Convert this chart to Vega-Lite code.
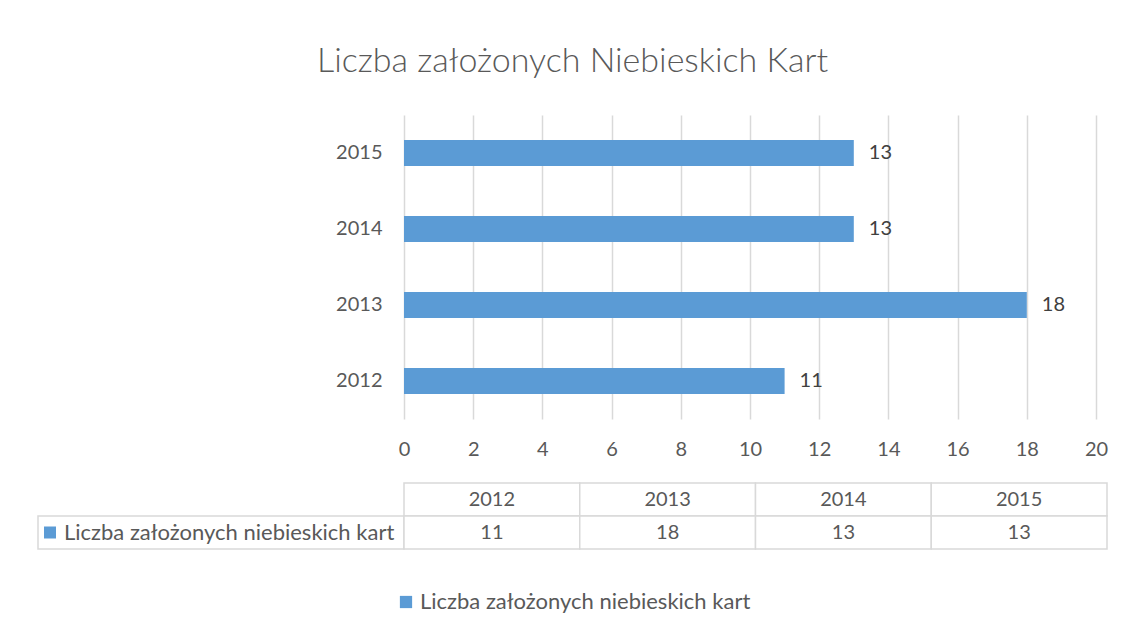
{
  "$schema": "https://vega.github.io/schema/vega-lite/v6.json",
  "background": "white",
  "autosize": {"type": "pad"},
  "padding": {"left": 37, "top": 45, "right": 10, "bottom": 10},
  "title": {"text": "Liczba założonych Niebieskich Kart", "anchor": "middle", "fontSize": 34, "font": "Lato", "fontWeight": 300, "color": "#595959", "offset": 36},
  "datasets": {
    "cards": [
      {"rok": "2012", "liczba": 11},
      {"rok": "2013", "liczba": 18},
      {"rok": "2014", "liczba": 13},
      {"rok": "2015", "liczba": 13}
    ],
    "series": [
      {"seria": "Liczba założonych niebieskich kart"}
    ]
  },
  "columns": 2,
  "spacing": {"row": 64, "column": 0},
  "bounds": "flush",
  "align": "each",
  "concat": [
    {
      "width": 366, "height": 304,
      "data": {"values": []},
      "mark": "text",
      "encoding": {"text": {"value": ""}}
    },
    {
      "width": 692, "height": 304,
      "data": {"name": "cards"},
      "encoding": {
        "y": {"field": "rok", "type": "ordinal", "sort": "descending",
              "scale": {"paddingInner": 0.66, "paddingOuter": 0.33},
              "axis": {"title": null, "labelPadding": 22}},
        "x": {"field": "liczba", "type": "quantitative",
              "scale": {"domain": [0, 20], "nice": false},
              "axis": {"title": null, "values": [0, 2, 4, 6, 8, 10, 12, 14, 16, 18, 20], "grid": true, "labelPadding": 20, "labelFlush": false}}
      },
      "layer": [
        {
          "mark": {"type": "bar"},
          "encoding": {
            "color": {"datum": "Liczba założonych niebieskich kart", "type": "nominal",
                      "scale": {"range": ["#5B9BD5"]},
                      "legend": {"title": null, "orient": "none", "legendX": 357, "legendY": 476,
                                 "symbolType": "square", "symbolSize": 150, "symbolStrokeWidth": 0,
                                 "labelFontSize": 22, "labelColor": "#595959", "labelFont": "Lato", "labelOffset": 3, "labelLimit": 500}}
          }
        },
        {
          "mark": {"type": "text", "align": "left", "dx": 15, "fontSize": 20, "font": "Lato", "color": "#404040"},
          "encoding": {"text": {"field": "liczba", "type": "quantitative"}}
        }
      ]
    },
    {
      "width": 366, "height": 66,
      "data": {"name": "series"},
      "encoding": {
        "y": {"datum": "wartosc", "type": "nominal",
              "scale": {"domain": ["naglowek", "wartosc"], "paddingInner": 0, "paddingOuter": 0},
              "axis": null}
      },
      "layer": [
        {"mark": {"type": "rect", "fill": "white", "stroke": "#D9D9D9", "strokeWidth": 1.5}},
        {"mark": {"type": "point", "shape": "square", "filled": true, "size": 144, "color": "#5B9BD5", "opacity": 1},
         "encoding": {"xOffset": {"value": -171}}},
        {"mark": {"type": "text", "align": "left", "dx": -157, "fontSize": 22, "font": "Lato", "color": "#595959"},
         "encoding": {"text": {"field": "seria", "type": "nominal"}}}
      ]
    },
    {
      "width": 703, "height": 66,
      "data": {"name": "cards"},
      "encoding": {
        "x": {"field": "rok", "type": "ordinal", "sort": "ascending",
              "scale": {"paddingInner": 0, "paddingOuter": 0}, "axis": null}
      },
      "layer": [
        {"mark": {"type": "rect", "fill": "white", "stroke": "#D9D9D9", "strokeWidth": 1.5},
         "encoding": {"y": {"datum": "naglowek", "type": "nominal", "scale": {"domain": ["naglowek", "wartosc"], "paddingInner": 0, "paddingOuter": 0}, "axis": null}}},
        {"mark": {"type": "rect", "fill": "white", "stroke": "#D9D9D9", "strokeWidth": 1.5},
         "encoding": {"y": {"datum": "wartosc", "type": "nominal"}}},
        {"mark": {"type": "text", "fontSize": 20, "font": "Lato", "color": "#595959"},
         "encoding": {"y": {"datum": "naglowek", "type": "nominal"}, "text": {"field": "rok", "type": "nominal"}}},
        {"mark": {"type": "text", "fontSize": 20, "font": "Lato", "color": "#595959"},
         "encoding": {"y": {"datum": "wartosc", "type": "nominal"}, "text": {"field": "liczba", "type": "quantitative"}}}
      ]
    }
  ],
  "config": {
    "view": {"stroke": null},
    "font": "Lato",
    "axis": {"labelFont": "Lato", "labelFontSize": 20, "labelColor": "#595959", "gridColor": "#D9D9D9", "gridWidth": 1.5, "domain": false, "ticks": false}
  }
}
